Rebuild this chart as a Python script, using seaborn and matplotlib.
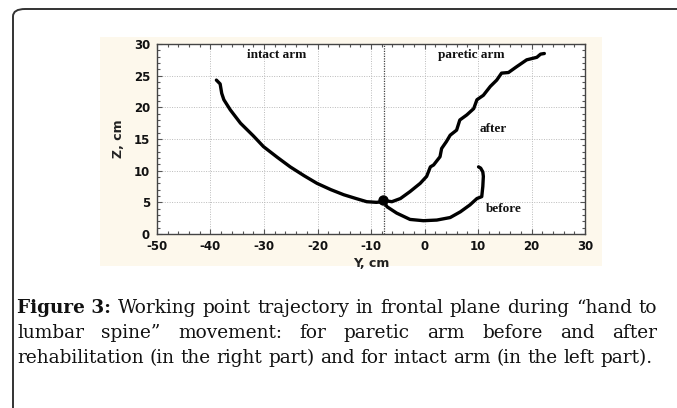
import matplotlib
matplotlib.use("Agg")
import matplotlib.pyplot as plt
import seaborn as sns
import numpy as np
import pandas as pd
from matplotlib.patches import FancyBboxPatch, Rectangle
from matplotlib.ticker import MultipleLocator

# ---------------- data ----------------
intact_y = [-38.9, -38.2, -37.9, -37.5, -36.3, -34.4, -32.0, -30.1, -27.5, -25.1, -22.5, -20.1, -17.5, -15.1, -12.8, -10.8, -9.0, -7.7]
intact_z = [24.3, 23.7, 22.2, 21.2, 19.6, 17.5, 15.5, 13.8, 12.1, 10.6, 9.2, 8.0, 7.0, 6.2, 5.6, 5.1, 5.0, 5.1]

after_y = [-7.7, -6.1, -4.5, -2.7, -0.8, 0.4, 1.1, 1.7, 2.9, 3.2, 4.1, 4.8, 6.0, 6.6, 7.9, 9.2, 9.8, 11.0, 12.3, 13.5, 14.4, 15.7, 17.2, 19.1, 21.0, 21.7, 22.4]
after_z = [5.3, 5.1, 5.6, 6.7, 8.0, 9.1, 10.6, 10.9, 12.2, 13.5, 14.6, 15.6, 16.4, 18.0, 18.8, 19.8, 21.2, 21.9, 23.3, 24.3, 25.4, 25.5, 26.4, 27.5, 27.9, 28.4, 28.5]

before_y = [-7.7, -7.0, -5.2, -2.7, -0.2, 2.3, 4.8, 6.7, 8.5, 9.8, 10.7, 10.9, 11.0, 10.9, 10.5, 10.1]
before_z = [5.3, 4.3, 3.3, 2.3, 2.1, 2.2, 2.6, 3.5, 4.6, 5.6, 5.9, 7.5, 9.1, 9.8, 10.4, 10.6]

start_point = (-7.8, 5.3)
divider_y = -7.5

x_ticks = [-50, -40, -30, -20, -10, 0, 10, 20, 30]
z_ticks = [0, 5, 10, 15, 20, 25, 30]

labels = {"intact arm": (-27.6, 28.3), "paretic arm": (8.8, 28.3),
          "after": (12.9, 16.6), "before": (14.8, 3.9)}

caption_lines = [
    ["Figure 3:", "Working", "point", "trajectory", "in", "frontal", "plane", "during", "\u201chand", "to"],
    ["lumbar", "spine\u201d", "movement:", "for", "paretic", "arm", "before", "and", "after"],
    ["rehabilitation", "(in", "the", "right", "part)", "and", "for", "intact", "arm", "(in", "the", "left", "part)."],
]

# ---------------- figure ----------------
sns.set_theme(style="white")
plt.rcParams["axes.unicode_minus"] = False
W, H = 677, 408
fig = plt.figure(figsize=(W / 100, H / 100), dpi=100)
fig.patch.set_facecolor("white")

def fx(px):
    return px / W

def fy(py):
    return 1 - py / H

# rounded border
border = FancyBboxPatch((fx(13), fy(420)), fx(700) - fx(13), fy(9) - fy(420),
                        boxstyle="round,pad=0,rounding_size=0.018",
                        transform=fig.transFigure, fill=False,
                        edgecolor="#333333", linewidth=1.4, zorder=-2)
fig.patches.append(border)

# cream image background
cream = Rectangle((fx(100), fy(266)), fx(602) - fx(100), fy(37) - fy(266),
                  transform=fig.transFigure, facecolor="#fdf8ec",
                  edgecolor="none", zorder=-1)
fig.patches.append(cream)

ax = fig.add_axes([fx(157), fy(234), fx(585) - fx(157), fy(44) - fy(234)])
ax.set_zorder(1)
ax.set_facecolor("white")

df_i = pd.DataFrame({"Y": intact_y, "Z": intact_z})
df_a = pd.DataFrame({"Y": after_y, "Z": after_z})
df_b = pd.DataFrame({"Y": before_y, "Z": before_z})
for d in (df_i, df_a, df_b):
    sns.lineplot(data=d, x="Y", y="Z", sort=False, estimator=None, ax=ax,
                 color="black", linewidth=2.4, zorder=3)
ax.scatter([start_point[0]], [start_point[1]], s=42, color="black", zorder=4)
ax.axvline(divider_y, color="#444444", linestyle=(0, (1, 1)), linewidth=0.9, zorder=2)

ax.set_xlim(-50, 30)
ax.set_ylim(0, 30)
ax.set_xticks(x_ticks)
ax.set_yticks(z_ticks)
ax.xaxis.set_minor_locator(MultipleLocator(2))
ax.yaxis.set_minor_locator(MultipleLocator(1))
ax.grid(True, which="major", color="#bbbbbb", linestyle=(0, (1, 1.5)), linewidth=0.7)
ax.tick_params(which="both", direction="in", length=2.5, width=0.8, color="#555555",
               top=True, right=True, bottom=True, left=True)
ax.tick_params(which="major", length=3.5)
ax.tick_params(axis="x", pad=4)
ax.tick_params(axis="y", pad=5)
for lab in ax.get_xticklabels() + ax.get_yticklabels():
    lab.set_fontfamily("DejaVu Sans")
    lab.set_fontweight("bold")
    lab.set_fontsize(8.5)
    lab.set_color("#111111")
for s in ax.spines.values():
    s.set_color("#444444")
    s.set_linewidth(1.0)

ax.set_xlabel("Y, cm", fontfamily="DejaVu Sans", fontweight="bold", fontsize=9,
              labelpad=3, color="#222222")
ax.set_ylabel("Z, cm", fontfamily="DejaVu Sans", fontweight="bold", fontsize=9,
              labelpad=6, color="#222222")

for txt, (x, y) in labels.items():
    ax.text(x, y, txt, fontfamily="Liberation Serif", fontweight="bold", fontsize=9.5,
            ha="center", va="center", color="#111111", zorder=5)

# ---------------- caption ----------------
renderer = fig.canvas.get_renderer()
left_px, right_px = 17, 657
line3_right = 651
baselines = [313, 338, 363]
cap_font = "DejaVu Serif"

def word_width(word, bold, size):
    t = fig.text(0, 0, word, fontfamily=cap_font, fontsize=size,
                 fontweight="bold" if bold else "normal")
    w = t.get_window_extent(renderer=renderer).width
    t.remove()
    return w

# fit font size so that last line has natural width like the reference
base = 12.0
natural = word_width(" ".join(caption_lines[2]), False, base)
fsize = base * (line3_right - left_px) / natural

space_w = word_width("a b", False, fsize) - word_width("ab", False, fsize)
for li, words in enumerate(caption_lines):
    widths = [word_width(w, li == 0 and i == 0, fsize) for i, w in enumerate(words)]
    total = sum(widths)
    if li < 2:
        gap = (right_px - left_px - total) / (len(words) - 1)
    else:
        gap = space_w
    x = left_px
    for i, w in enumerate(words):
        bold = (li == 0 and i == 0)
        fig.text(fx(x), fy(baselines[li]), w, fontfamily=cap_font,
                 fontsize=fsize, fontweight="bold" if bold else "normal",
                 ha="left", va="baseline", color="#111111")
        x += widths[i] + gap

fig.savefig("out.png", dpi=100, facecolor="white")
